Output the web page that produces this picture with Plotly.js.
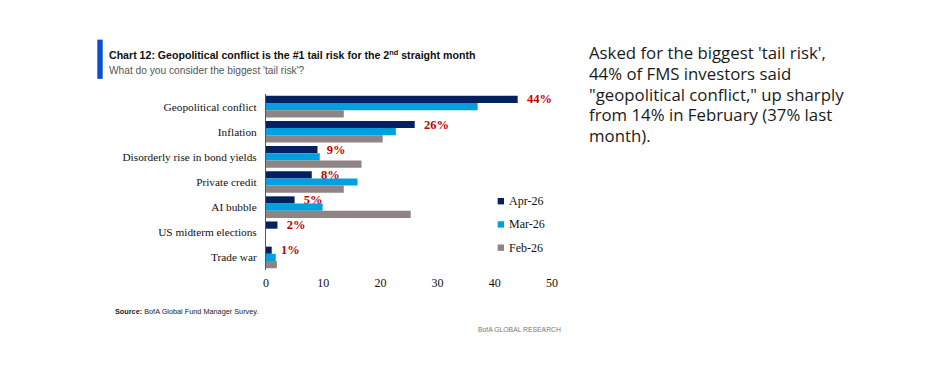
<!DOCTYPE html>
<html>
<head>
<meta charset="utf-8">
<script src="https://cdn.plot.ly/plotly-3.0.1.min.js"></script>
<style>html,body{margin:0;padding:0;background:#fff;}#chart{width:933px;height:367px;}</style>
</head>
<body>
<div id="chart"></div>
<script>
// ---- data ----
const categories = ["Geopolitical conflict", "Inflation", "Disorderly rise in bond yields", "Private credit", "AI bubble", "US midterm elections", "Trade war"];
const seriesNames = ["Apr-26", "Mar-26", "Feb-26"];
const apr26 = [44, 26, 9, 8, 5, 2, 1];
const mar26 = [37, 22.7, 9.4, 16, 9.9, 0, 1.7];
const feb26 = [13.6, 20.4, 16.7, 13.6, 25.3, 0, 1.9];
const xTicks = [0, 10, 20, 30, 40, 50];
const titleText = "Chart 12: Geopolitical conflict is the #1 tail risk for the 2<sup>nd</sup> straight month";
const subtitleText = "What do you consider the biggest 'tail risk'?";
const sourceText = "<b>Source:</b> BofA Global Fund Manager Survey.";
const brandText = "BofA GLOBAL RESEARCH";
const commentLines = ["Asked for the biggest 'tail risk',", "44% of FMS investors said", "\"geopolitical conflict,\" up sharply", "from 14% in February (37% last", "month)."];

// ---- layout helpers (pixel -> paper) ----
const W = 933, H = 367;
const M = {l: 266, r: 381, t: 93.5, b: 97};
const PW = W - M.l - M.r, PH = H - M.t - M.b;
const X = px => (px - M.l) / PW;
const Y = py => (H - M.b - py) / PH;

const colors = ["#04215f", "#00a0e0", "#8e8486"];
const serif = "Liberation Serif, Times New Roman, serif";
const sans = "Liberation Sans, Arial, sans-serif";

const values = [apr26, mar26, feb26];
const traces = values.map((v, i) => ({
  type: "bar", orientation: "h",
  x: v, y: categories, name: seriesNames[i],
  marker: {color: colors[i], line: {width: 0}},
  showlegend: false,
  text: i === 0 ? v.map(d => "\u00a0\u00a0" + d + "%") : null,
  textposition: i === 0 ? "outside" : "none",
  constraintext: "none",
  textfont: {family: serif, size: 12.5, color: "#c00000", weight: "bold"},
  cliponaxis: false,
  hoverinfo: "x+y"
}));

const ann = [];
const shapes = [];
const paperText = (text, px, py, size, color, opts) => Object.assign({
  text: text, x: X(px), y: Y(py), xref: "paper", yref: "paper", xanchor: "left", yanchor: "middle",
  showarrow: false, font: {family: sans, size: size, color: color}}, opts || {});

ann.push(paperText(titleText, 107, 53.5, 10.6, "#111", {font: {family: sans, size: 10.6, color: "#111", weight: "bold"}}));
ann.push(paperText(subtitleText, 107, 70, 10.2, "#555"));
ann.push(paperText(sourceText, 113, 312, 7.3, "#222"));
ann.push(paperText(brandText, 563, 330, 6.8, "#777", {xanchor: "right"}));
commentLines.forEach((line, i) => ann.push(paperText(line, 587, 51.7 + i * 20.9, 16.8, "#1a1a1a",
  {font: {family: "Open Sans, Noto Sans, sans-serif", size: 16.8, color: "#1a1a1a"}})));

// manual legend (small squares + serif labels)
const legendY = [201, 224.3, 247.6];
seriesNames.forEach((n, i) => {
  shapes.push({type: "rect", xref: "paper", yref: "paper", x0: X(497.7), x1: X(504), y0: Y(legendY[i] - 3.2), y1: Y(legendY[i] + 3.2),
    fillcolor: colors[i], line: {width: 0}});
  ann.push(paperText(n, 506.5, legendY[i], 12, "#111", {font: {family: serif, size: 12, color: "#111"}}));
});

// title accent bar
shapes.push({type: "rect", xref: "paper", yref: "paper", x0: X(97.3), x1: X(102.7), y0: Y(39), y1: Y(78.3),
  fillcolor: "#0a4fcf", line: {width: 0}});

const layout = {
  width: W, height: H,
  margin: M,
  paper_bgcolor: "#fff", plot_bgcolor: "#fff",
  barmode: "group", bargap: 0.14, bargroupgap: 0,
  font: {family: serif, size: 12, color: "#111"},
  xaxis: {range: [0, 50], tickvals: xTicks, showgrid: false, zeroline: false, showline: false,
    ticks: "", tickfont: {family: serif, size: 12, color: "#111"}, ticklabelstandoff: 4, fixedrange: true},
  yaxis: {autorange: "reversed", showgrid: false, zeroline: false, showline: true, linecolor: "#555", linewidth: 1,
    ticks: "", tickfont: {family: serif, size: 11.3, color: "#111"}, ticklabelstandoff: 6, fixedrange: true},
  shapes: shapes,
  annotations: ann,
  showlegend: false
};
Plotly.newPlot("chart", traces, layout, {displayModeBar: false, staticPlot: true});
</script>
</body>
</html>
